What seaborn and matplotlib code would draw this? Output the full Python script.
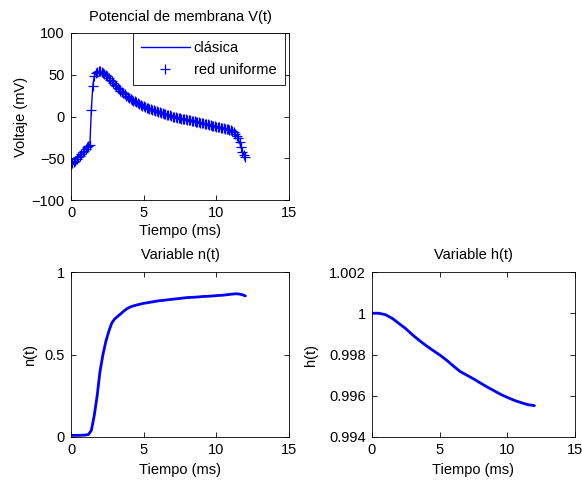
import numpy as np
import pandas as pd
import matplotlib
matplotlib.use("Agg")
import matplotlib.pyplot as plt
from matplotlib.ticker import FuncFormatter
import seaborn as sns

# Membrane potential V(t), mV, sampled every 0.1 ms from 0 to 12 ms
t_v = [round(0.1 * i, 1) for i in range(121)]
v_clasica = [
    -57, -56, -54.5, -53, -51, -49, -47, -45, -43, -41,
    -39, -37, -35.5, -34, 8, 37, 48, 52, 53.5, 54,
    54, 53.5, 52.5, 51, 49.5, 48, 46, 44, 42, 40,
    38, 36, 34.5, 33, 31, 29.5, 28, 26.5, 25, 23.5,
    22, 21, 20, 19, 18, 17, 16, 15, 14, 13,
    12, 11.3, 10.6, 10, 9.4, 8.8, 8.2, 7.5, 6.8, 6,
    5.4, 4.8, 4.2, 3.7, 3.2, 2.7, 2.2, 1.7, 1.2, 0.6,
    0, -0.4, -0.8, -1.2, -1.6, -2, -2.4, -2.8, -3.2, -3.5,
    -3.8, -4.1, -4.4, -4.8, -5.2, -5.6, -6, -6.4, -6.8, -7.2,
    -7.6, -8, -8.5, -9, -9.5, -10, -10.4, -10.8, -11.2, -11.6,
    -12, -12.4, -12.8, -13.2, -13.6, -14, -14.4, -14.8, -15.3, -15.9,
    -16.6, -17.5, -18.8, -20.5, -23, -26, -31, -37, -42, -46,
    -48,
]
# Uniform-grid solution (same sampling instants)
v_uniforme = [
    -57, -56, -54.5, -53, -51, -49, -47, -45, -43, -41,
    -39, -37, -35.5, -34, 8, 37, 48, 52, 53.5, 54,
    54, 53.5, 52.5, 51, 49.5, 48, 46, 44, 42, 40,
    38, 36, 34.5, 33, 31, 29.5, 28, 26.5, 25, 23.5,
    22, 21, 20, 19, 18, 17, 16, 15, 14, 13,
    12, 11.3, 10.6, 10, 9.4, 8.8, 8.2, 7.5, 6.8, 6,
    5.4, 4.8, 4.2, 3.7, 3.2, 2.7, 2.2, 1.7, 1.2, 0.6,
    0, -0.4, -0.8, -1.2, -1.6, -2, -2.4, -2.8, -3.2, -3.5,
    -3.8, -4.1, -4.4, -4.8, -5.2, -5.6, -6, -6.4, -6.8, -7.2,
    -7.6, -8, -8.5, -9, -9.5, -10, -10.4, -10.8, -11.2, -11.6,
    -12, -12.4, -12.8, -13.2, -13.6, -14, -14.4, -14.8, -15.3, -15.9,
    -16.6, -17.5, -18.8, -20.5, -23, -26, -31, -37, -42, -46,
    -48,
]

# Gating variable n(t), every 0.2 ms
t_n = [round(0.2 * i, 1) for i in range(61)]
n_vals = [
    0.010, 0.010, 0.010, 0.010, 0.011, 0.012, 0.015, 0.040, 0.130, 0.250,
    0.400, 0.500, 0.580, 0.640, 0.690, 0.715, 0.730, 0.745, 0.760, 0.775,
    0.785, 0.792, 0.797, 0.802, 0.806, 0.810, 0.813, 0.816, 0.819, 0.822,
    0.825, 0.827, 0.829, 0.831, 0.833, 0.835, 0.837, 0.839, 0.841, 0.843,
    0.845, 0.846, 0.847, 0.848, 0.849, 0.851, 0.852, 0.853, 0.854, 0.855,
    0.857, 0.858, 0.859, 0.861, 0.863, 0.865, 0.867, 0.868, 0.866, 0.862,
    0.855,
]

# Gating variable h(t), every 0.5 ms
t_h = [0.5 * i for i in range(25)]
h_vals = [
    1.00000, 1.00000, 0.99993, 0.99975, 0.99950, 0.99925, 0.99895, 0.99868,
    0.99843, 0.99820, 0.99798, 0.99773, 0.99745, 0.99718, 0.99700, 0.99682,
    0.99662, 0.99643, 0.99625, 0.99607, 0.99592, 0.99578, 0.99567, 0.99557,
    0.99552,
]

x_ticks = [0, 5, 10, 15]
v_ticks = [-100, -50, 0, 50, 100]
n_ticks = [0, 0.5, 1]
h_ticks = [0.994, 0.996, 0.998, 1.0, 1.002]

sns.set_style("white")
plt.rcParams.update({
    "font.family": ["Liberation Sans", "DejaVu Sans"],
    "font.size": 10.5,
    "axes.edgecolor": "black",
    "axes.linewidth": 0.6,
    "xtick.direction": "in",
    "ytick.direction": "in",
    "xtick.top": True,
    "ytick.right": True,
    "xtick.bottom": True,
    "ytick.left": True,
    "xtick.major.size": 3.5,
    "ytick.major.size": 3.5,
    "xtick.major.width": 0.6,
    "ytick.major.width": 0.6,
    "xtick.color": "black",
    "ytick.color": "black",
    "text.color": "black",
    "axes.labelcolor": "black",
})

BLUE = (0, 0, 1)
W, H = 582, 483
FS = 10.5
fig = plt.figure(figsize=(W / 100, H / 100), dpi=100)


def box(l, t, r, b):
    return [l / W, 1 - b / H, (r - l) / W, (b - t) / H]


ax_v = fig.add_axes(box(71, 33, 289, 200))
ax_n = fig.add_axes(box(71, 272, 289, 437))
ax_h = fig.add_axes(box(372, 272, 575, 437))

df_c = pd.DataFrame({"t": t_v, "V": v_clasica})
df_u = pd.DataFrame({"t": t_v, "V": v_uniforme})
sns.lineplot(data=df_c, x="t", y="V", ax=ax_v, color=BLUE, linewidth=1.0,
             estimator=None, sort=False, label="clásica")
sns.lineplot(data=df_u, x="t", y="V", ax=ax_v, color=BLUE, linestyle="none",
             marker="+", markersize=6.5, markeredgewidth=0.9,
             markeredgecolor=BLUE, markerfacecolor=BLUE,
             estimator=None, sort=False, label="red uniforme")

sns.lineplot(x=t_n, y=n_vals, ax=ax_n, color=BLUE, linewidth=2.0,
             estimator=None, sort=False)
sns.lineplot(x=t_h, y=h_vals, ax=ax_h, color=BLUE, linewidth=2.0,
             estimator=None, sort=False)

g = FuncFormatter(lambda v, p: f"{v:g}")

ax_v.set_xlim(0, 15)
ax_v.set_ylim(-100, 100)
ax_v.set_xticks(x_ticks)
ax_v.set_yticks(v_ticks)
ax_v.set_title("Potencial de membrana V(t)", fontsize=FS, pad=9)
ax_v.set_xlabel("Tiempo (ms)", labelpad=3)
ax_v.set_ylabel("Voltaje (mV)")
ax_v.yaxis.set_label_coords(-0.195, 0.5)

ax_n.set_xlim(0, 15)
ax_n.set_ylim(0, 1)
ax_n.set_xticks(x_ticks)
ax_n.set_yticks(n_ticks)
ax_n.yaxis.set_major_formatter(g)
ax_n.set_title("Variable n(t)", fontsize=FS, pad=9)
ax_n.set_xlabel("Tiempo (ms)", labelpad=4)
ax_n.set_ylabel("n(t)")
ax_n.yaxis.set_label_coords(-0.155, 0.5)

ax_h.set_xlim(0, 15)
ax_h.set_ylim(0.994, 1.002)
ax_h.set_xticks(x_ticks)
ax_h.set_yticks(h_ticks)
ax_h.yaxis.set_major_formatter(g)
ax_h.set_title("Variable h(t)", fontsize=FS, pad=9)
ax_h.set_xlabel("Tiempo (ms)", labelpad=4)
ax_h.set_ylabel("h(t)")
ax_h.yaxis.set_label_coords(-0.265, 0.5)

for ax in (ax_v, ax_n, ax_h):
    ax.tick_params(labelsize=FS, pad=4.5)
    for s in ax.spines.values():
        s.set_visible(True)
        s.set_color("black")

leg = ax_v.legend(loc="upper right", bbox_to_anchor=(284.5 / W, 1 - 33 / H),
                  bbox_transform=fig.transFigure,
                  frameon=True, fancybox=False,
                  edgecolor="black", framealpha=1, fontsize=FS,
                  handlelength=3.4, borderpad=0.55, labelspacing=0.55,
                  handletextpad=0.25, borderaxespad=0.0)
leg.get_frame().set_linewidth(0.6)

fig.savefig("out.png", dpi=100, facecolor="white")
